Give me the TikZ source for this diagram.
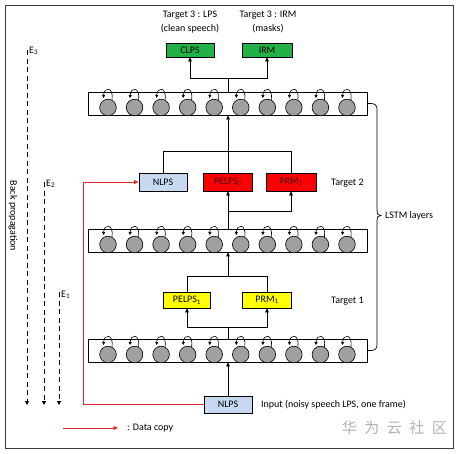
\documentclass[tikz,border=0pt]{standalone}
\usepackage{fontspec}
\setmainfont{Carlito}
\newfontfamily\cjk{Noto Sans CJK SC}
\usetikzlibrary{arrows.meta}
\definecolor{tgreen}{RGB}{34,177,70}
\definecolor{tblue}{RGB}{198,217,241}
\definecolor{tyellow}{RGB}{255,255,0}
\definecolor{tred}{RGB}{255,0,0}
\definecolor{cgray}{RGB}{160,160,160}
\definecolor{copyred}{RGB}{225,40,40}
\definecolor{frame}{RGB}{60,60,60}
\tikzset{
  tbox/.style={draw, line width=0.7pt, inner sep=0pt, font=\fontsize{10}{12}\selectfont},
  lstmbox/.style={draw, line width=0.7pt, minimum width=279pt, minimum height=23pt, inner sep=0pt},
  conn/.style={line width=0.7pt},
  arr/.style={line width=0.7pt, -{Triangle[length=4pt,width=3.6pt]}},
  copyarr/.style={line width=0.8pt, copyred, -{Triangle[length=4.5pt,width=3.8pt]}},
  backarr/.style={line width=0.8pt, dash pattern=on 5pt off 3.5pt, -{Triangle[length=4pt,width=4pt]}},
  lbl/.style={font=\fontsize{10}{14}\selectfont, inner sep=0pt, align=center},
  cell/.style={draw, line width=0.6pt, fill=cgray},
}
\begin{document}
\begin{tikzpicture}[x=1pt,y=-1pt]
\useasboundingbox (0,0) rectangle (460,453);
\draw[frame, line width=1pt] (5,5) rectangle (453,448);

% top labels
\node[lbl] (t3a) at (190,22) {Target 3 : LPS\\(clean speech)};
\node[lbl] (t3b) at (268,22) {Target 3 : IRM\\(masks)};

% output boxes
\node[tbox, fill=tgreen, minimum width=48pt, minimum height=14pt] (clps) at (190,50) {CLPS};
\node[tbox, fill=tgreen, minimum width=50pt, minimum height=14pt] (irm) at (267,50) {IRM};

% LSTM layers
\node[lstmbox] (lstm3) at (228,103.5) {};
\node[lstmbox] (lstm2) at (228,240.5) {};
\node[lstmbox] (lstm1) at (228,350.5) {};

\foreach \yc in {103.5,240.5,350.5}{
  \foreach \i in {0,...,9}{
    \pgfmathsetmacro{\cx}{108+\i*26.55}
    \pgfmathsetmacro{\cy}{\yc+4}
    \draw[cell] (\cx,\cy) circle[radius=8.3];
    \draw[line width=0.6pt, -{Triangle[length=3pt,width=3pt]}]
      (\cx+4,\cy-7.3) .. controls (\cx+6,\cy-21) and (\cx-4,\cy-21) .. (\cx-4.5,\cy-9.5);
  }
}

% target 2 boxes
\node[tbox, fill=tblue, minimum width=48pt, minimum height=18pt] (nlps2) at (163,182) {NLPS};
\node[tbox, fill=tred, text=black!75!red, minimum width=49pt, minimum height=18pt] (pelps2) at (228,182) {PELPS\textsubscript{2}};
\node[tbox, fill=tred, text=black!75!red, minimum width=50pt, minimum height=18pt] (prm2) at (291,182) {PRM\textsubscript{2}};
\node[lbl, anchor=west] (tg2) at (331,183) {Target 2};

% target 1 boxes
\node[tbox, fill=tyellow, minimum width=47pt, minimum height=16pt] (pelps1) at (187,300) {PELPS\textsubscript{1}};
\node[tbox, fill=tyellow, minimum width=49pt, minimum height=16pt] (prm1) at (267,300) {PRM\textsubscript{1}};
\node[lbl, anchor=west] (tg1) at (331,301) {Target 1};

% input
\node[tbox, fill=tblue, minimum width=48pt, minimum height=17pt] (nlpsin) at (228,404.5) {NLPS};
\node[lbl, anchor=west] (inlbl) at (261,405) {Input (noisy speech LPS, one frame)};

% junctions
\coordinate (j3) at (228,78);
\coordinate (j2t) at (228,151);
\coordinate (j2b) at (228,211);
\coordinate (j1t) at (228,276);
\coordinate (j1b) at (228,327);

\draw[conn] (lstm3.north) -- (j3);
\draw[arr] (j3) -| (clps.south);
\draw[arr] (j3) -| (irm.south);

\draw[arr] (j2t) -- (lstm3.south);
\draw[conn] (j2t) -| (nlps2.north);
\draw[conn] (j2t) -- (pelps2.north);
\draw[conn] (j2t) -| (prm2.north);

\draw[conn] (lstm2.north) -- (j2b);
\draw[arr] (j2b) -- (pelps2.south);
\draw[arr] (j2b) -| (prm2.south);

\draw[arr] (j1t) -- (lstm2.south);
\draw[conn] (j1t) -| (pelps1.north);
\draw[conn] (j1t) -| (prm1.north);

\draw[conn] (lstm1.north) -- (j1b);
\draw[arr] (j1b) -| (pelps1.south);
\draw[arr] (j1b) -| (prm1.south);

\draw[arr] (nlpsin.north) -- (lstm1.south);

% data copy
\coordinate (rc) at (83,404.5);
\draw[copyarr] (nlpsin.west) -- (rc) |- (nlps2.west);

% brace
\draw[line width=0.7pt] (lstm3.east) -- (371,103.5) .. controls (375,103.5) and (377,105.5) .. (377,109.5)
  -- (377,211) .. controls (377,214) and (378,215.5) .. (381,215.5)
  .. controls (378,215.5) and (377,217) .. (377,220)
  -- (377,344.5) .. controls (377,348.5) and (375,350.5) .. (371,350.5) -- (lstm1.east);
\node[lbl, anchor=west] (lstmlbl) at (385,215.5) {LSTM layers};

% back propagation
\coordinate (e3s) at (27,50);
\coordinate (e3e) at (27,405);
\coordinate (e2s) at (44,182);
\coordinate (e2e) at (44,405);
\coordinate (e1s) at (59,292);
\coordinate (e1e) at (59,405);
\draw[backarr] (e3s) -- (e3e);
\draw[backarr] (e2s) -- (e2e);
\draw[backarr] (e1s) -- (e1e);
\node[lbl, anchor=west] (e3l) at (29,51) {E\textsubscript{3}};
\node[lbl, anchor=west] (e2l) at (46,184) {E\textsubscript{2}};
\node[lbl, anchor=west] (e1l) at (61,295) {E\textsubscript{1}};
\node[lbl, rotate=-90] (bp) at (13,216) {Back propagation};

% legend
\coordinate (lg1) at (63,428);
\coordinate (lg2) at (118,428);
\draw[copyarr] (lg1) -- (lg2);
\node[lbl, anchor=west] (lglbl) at (127,428) {: Data copy};

% watermark
\node[anchor=east, inner sep=0pt, text=black!30, font=\cjk\fontsize{15}{15}\selectfont] (wm) at (447,428)
  {华\hspace{7.5pt}为\hspace{7.5pt}云\hspace{7.5pt}社\hspace{7.5pt}区};
\end{tikzpicture}
\end{document}
